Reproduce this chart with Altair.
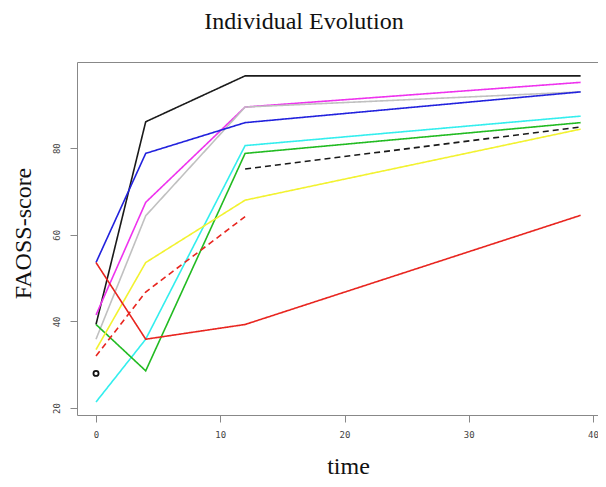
import altair as alt
import pandas as pd

# ---- data ----
chart_title = ["Individual Evolution"]
time = [0, 4, 12, 39]
subject_ids = ["s_black", "s_magenta", "s_gray", "s_blue", "s_cyan",
               "s_green", "s_yellow", "s_red", "s_black_dash", "s_red_dash"]
s_black = [39.3, 86.1, 96.7, 96.7]
s_magenta = [41.5, 67.5, 89.5, 95.2]
s_gray = [35.9, 64.4, 89.5, 93.0]
s_blue = [53.6, 78.8, 85.9, 93.0]
s_cyan = [21.4, 35.9, 80.6, 87.4]
s_green = [39.3, 28.6, 78.8, 85.9]
s_yellow = [33.5, 53.6, 68.0, 84.4]
s_red = [53.6, 35.9, 39.3, 64.5]
s_black_dash = [None, None, 75.2, 84.9]
s_red_dash = [32.0, 46.8, 64.2, None]
lone_time = [0]
lone_score = [28.0]

series = [s_black, s_magenta, s_gray, s_blue, s_cyan,
          s_green, s_yellow, s_red, s_black_dash, s_red_dash]

rows = []
for sid, vals in zip(subject_ids, series):
    for t, v in zip(time, vals):
        if v is not None:
            rows.append({"subject": sid, "time": t, "score": v})
df = pd.DataFrame(rows)
df_pt = pd.DataFrame({"time": lone_time, "score": lone_score})
df_title = pd.DataFrame({"label": chart_title})

colors = ["#1a1a1a", "#ee33ee", "#c0c0c0", "#2222dd", "#33eeee",
          "#22bb22", "#f2f230", "#e8251f", "#1a1a1a", "#e8251f"]
dashes = [[1, 0]] * 8 + [[6, 4], [6, 4]]

label_font = "DejaVu Sans Mono"
serif = "Liberation Serif"

xscale = alt.Scale(domain=[-1.53, 40.40], nice=False, zero=False)
yscale = alt.Scale(domain=[18.4, 99.9], nice=False, zero=False)

xaxis = alt.Axis(values=[0, 10, 20, 30, 40], title="time", grid=False,
                 domain=False, tickColor="#888", tickSize=7, tickWidth=1,
                 labelFont=label_font, labelFontSize=9, labelColor="#444",
                 labelPadding=8, labelBaseline="top",
                 titleFont=serif, titleFontSize=24, titleFontWeight="normal",
                 titleColor="#111", titleX=271, titleY=58,
                 titleBaseline="alphabetic", titleAlign="center")
yaxis = alt.Axis(values=[20, 40, 60, 80], title="FAOSS-score", grid=False,
                 domain=False, tickColor="#888", tickSize=7, tickWidth=1,
                 labelFont=label_font, labelFontSize=9, labelColor="#444",
                 labelAngle=270, labelAlign="center", labelBaseline="alphabetic",
                 labelPadding=11,
                 titleFont=serif, titleFontSize=24, titleFontWeight="normal",
                 titleColor="#111", titleAngle=270, titleX=-47, titleY=171,
                 titleBaseline="alphabetic", titleAlign="center")

lines = alt.Chart(df).mark_line(strokeWidth=1.6).encode(
    x=alt.X("time:Q", scale=xscale, axis=xaxis),
    y=alt.Y("score:Q", scale=yscale, axis=yaxis),
    color=alt.Color("subject:N", scale=alt.Scale(domain=subject_ids, range=colors), legend=None),
    strokeDash=alt.StrokeDash("subject:N", scale=alt.Scale(domain=subject_ids, range=dashes), legend=None),
    detail="subject:N",
)

point = alt.Chart(df_pt).mark_point(shape="circle", filled=False, color="#111",
                                    size=26, strokeWidth=1.8, opacity=1).encode(
    x=alt.X("time:Q", scale=xscale),
    y=alt.Y("score:Q", scale=yscale),
)

title_text = alt.Chart(df_title).mark_text(
    font=serif, fontSize=24, color="#111", align="center", baseline="alphabetic"
).encode(text="label:N", x=alt.value(227), y=alt.value(-33))

chart = (lines + point + title_text).properties(
    width=521, height=353,
    autosize=alt.AutoSizeParams(type="none"),
    padding={"left": 69, "top": 54, "right": 0, "bottom": 64},
).configure_view(stroke="#888", strokeWidth=1)

chart.save("out.html", embed_options={"renderer": "svg", "actions": False})
